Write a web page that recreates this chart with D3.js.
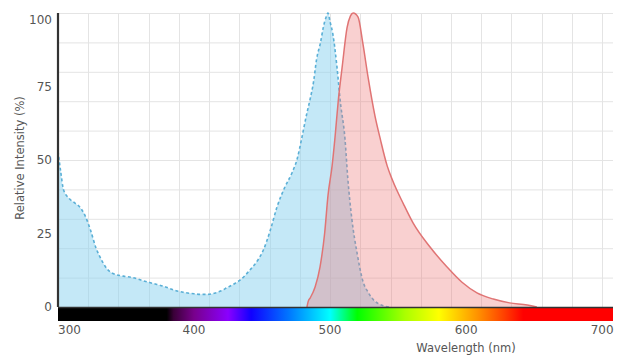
<!DOCTYPE html>
<html>
<head>
    <meta charset="UTF-8">
    <title>Excitation / Emission Spectrum</title>
    <style>
        body { margin: 0; background: #fff; font-family: "DejaVu Sans", Verdana, sans-serif; }
        .grid line { stroke: #e4e4e4; stroke-width: 1px; }
        .tick-label { fill: #555; font-size: 12px; }
        .axis-title { fill: #555; font-size: 11.5px; }
    </style>
    <script src="https://d3js.org/d3.v7.min.js"></script>
</head>
<body>
<div id="chart"></div>
<script>
    // excitation spectrum (blue, dashed)
    var exWave = [300, 302, 304, 308, 312, 316, 320, 324, 328, 332, 336, 340, 348, 355, 362, 370, 378, 385, 392,
                  400, 405, 410, 415, 420, 424, 430, 434, 440, 443, 447, 451, 456, 461, 467, 472, 476, 479, 483,
                  485, 488, 490, 493, 495, 497, 498.5, 500, 502, 505, 507.5, 511, 513, 516, 520, 524, 528, 532,
                  536, 540, 545];
    var exValue = [53, 46, 40, 37, 35.5, 34, 31, 26, 20, 16, 13, 11.5, 10.5, 10, 9, 8, 7, 5.8, 5,
                   4.5, 4.3, 4.3, 4.7, 5.5, 6.5, 8, 9.2, 12, 13.6, 16, 19.4, 26, 34, 41, 45.6, 50.7, 57, 66,
                   70, 77, 84, 90, 95, 98.5, 100, 97, 93, 82, 70, 57, 44, 30, 18, 9, 5, 2.4,
                   1, 0.3, 0];

    // emission spectrum (red, solid)
    var emWave = [483, 484, 485.3, 489, 492.6, 496, 498.5, 501.5, 503.7, 506, 509, 512.5, 515, 517, 520.6,
                  524, 528, 533, 537, 542, 546, 554, 561, 573.5, 586, 597, 608, 620, 632, 645, 652];
    var emValue = [0, 2, 3, 6.8, 13.6, 25, 38, 48, 58, 70, 82, 95, 99, 100, 98.6,
                   90, 78, 65, 57, 48, 43, 35, 28.6, 20.4, 13.6, 8.4, 4.8, 2.7, 1.4, 0.7, 0];

    var xTicks = [300, 400, 500, 600, 700];
    var yTicks = [0, 25, 50, 75, 100];

    // visible light colour bar
    var specStops = [
        [300, "#000000"], [380, "#000000"], [385, "#3a0038"], [400, "#78008c"], [425, "#8a00ff"],
        [442, "#1000ff"], [470, "#0078ff"], [500, "#00ffff"], [520, "#00ff00"], [555, "#aaff00"],
        [580, "#ffff00"], [610, "#ff8c00"], [628, "#ff4000"], [642, "#ff0000"], [708, "#ff0000"]
    ];

    var W = 641, H = 363;
    var plot = {left: 58, right: 613, top: 13, bottom: 307};

    var x = d3.scaleLinear().domain([300, 708]).range([plot.left, plot.right]);
    var y = d3.scaleLinear().domain([0, 100]).range([plot.bottom, plot.top]);

    var svg = d3.select("#chart").append("svg")
        .attr("width", W)
        .attr("height", H);

    // grid
    var grid = svg.append("g").attr("class", "grid");
    grid.selectAll(".gy").data(d3.range(0, 101, 10)).enter().append("line")
        .attr("x1", plot.left).attr("x2", plot.right)
        .attr("y1", function (d) { return y(d) + 0.5; })
        .attr("y2", function (d) { return y(d) + 0.5; });
    grid.selectAll(".gx").data(d3.range(0, 19).map(function (i) { return 300 + i * 400 / 18; })).enter().append("line")
        .attr("x1", function (d) { return Math.round(x(d)) + 0.5; })
        .attr("x2", function (d) { return Math.round(x(d)) + 0.5; })
        .attr("y1", plot.top).attr("y2", plot.bottom);

    var ex = exWave.map(function (w, i) { return [w, exValue[i]]; });
    var em = emWave.map(function (w, i) { return [w, emValue[i]]; });

    var area = d3.area()
        .x(function (d) { return x(d[0]); })
        .y0(y(0))
        .y1(function (d) { return y(d[1]); })
        .curve(d3.curveMonotoneX);
    var line = d3.line()
        .x(function (d) { return x(d[0]); })
        .y(function (d) { return y(d[1]); })
        .curve(d3.curveMonotoneX);

    svg.append("path").datum(ex)
        .attr("d", area)
        .attr("fill", "rgb(137,209,239)")
        .attr("fill-opacity", 0.5);
    svg.append("path").datum(ex)
        .attr("d", line)
        .attr("fill", "none")
        .attr("stroke", "#5aafd6")
        .attr("stroke-width", 1.6)
        .attr("stroke-dasharray", "3,2.5");

    svg.append("path").datum(em)
        .attr("d", area)
        .attr("fill", "rgb(238,121,121)")
        .attr("fill-opacity", 0.35);
    svg.append("path").datum(em)
        .attr("d", line)
        .attr("fill", "none")
        .attr("stroke", "#e07474")
        .attr("stroke-width", 1.5);

    // colour bar
    var grad = svg.append("defs").append("linearGradient")
        .attr("id", "spectrum")
        .attr("gradientUnits", "userSpaceOnUse")
        .attr("x1", x(300)).attr("x2", x(708))
        .attr("y1", 0).attr("y2", 0);
    grad.selectAll("stop").data(specStops).enter().append("stop")
        .attr("offset", function (d) { return (d[0] - 300) / 408; })
        .attr("stop-color", function (d) { return d[1]; });

    svg.append("rect")
        .attr("x", x(300)).attr("y", plot.bottom)
        .attr("width", x(708) - x(300)).attr("height", 14)
        .attr("fill", "url(#spectrum)");
    svg.append("line")
        .attr("x1", x(300)).attr("x2", x(708))
        .attr("y1", plot.bottom + 0.5).attr("y2", plot.bottom + 0.5)
        .attr("stroke", "#333").attr("stroke-width", 1.5);

    // y axis line
    svg.append("line")
        .attr("x1", plot.left).attr("x2", plot.left)
        .attr("y1", plot.top).attr("y2", plot.bottom)
        .attr("stroke", "#333").attr("stroke-width", 2.2);

    // tick labels
    svg.selectAll(".xl").data(xTicks).enter().append("text")
        .attr("class", "tick-label")
        .attr("x", function (d, i) { return i === 0 ? x(d) : x(d); })
        .attr("y", 334)
        .attr("text-anchor", function (d, i) { return i === 0 ? "start" : "middle"; })
        .text(function (d) { return d; });

    svg.selectAll(".yl").data(yTicks).enter().append("text")
        .attr("class", "tick-label")
        .attr("x", 52)
        .attr("y", function (d) { return Math.max(y(d), 20); })
        .attr("dy", "0.35em")
        .attr("text-anchor", "end")
        .text(function (d) { return d; });

    svg.append("text")
        .attr("class", "axis-title")
        .attr("x", 466).attr("y", 352)
        .attr("text-anchor", "middle")
        .text("Wavelength (nm)");

    svg.append("text")
        .attr("class", "axis-title")
        .attr("transform", "translate(24,158) rotate(-90)")
        .attr("text-anchor", "middle")
        .text("Relative Intensity (%)");
</script>
</body>
</html>
